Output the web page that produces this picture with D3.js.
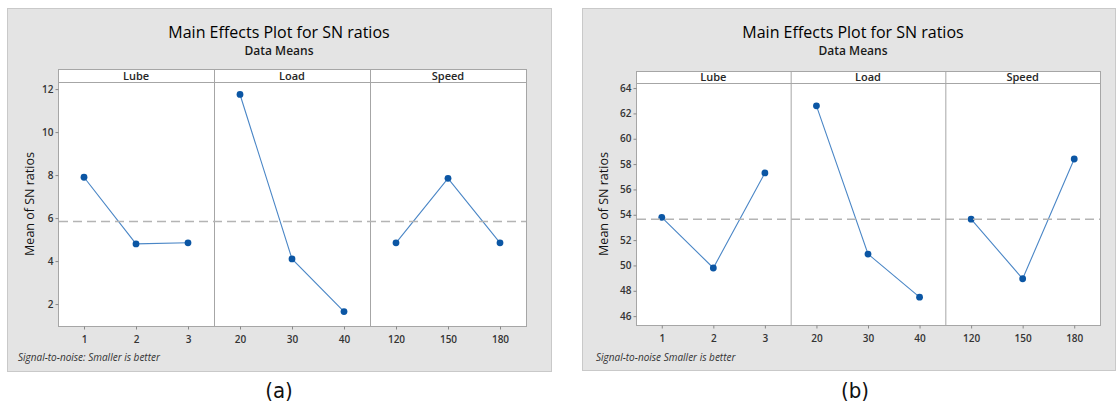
<!DOCTYPE html>
<html>
<head>
<meta charset="utf-8">
<script src="https://cdn.jsdelivr.net/npm/d3@7"></script>
<style>
  body { margin: 0; background: #fff; }
  svg { display: block; font-family: "Open Sans", "Noto Sans", sans-serif; }
</style>
</head>
<body>
<div id="chart"></div>
<script>
"use strict";

// factor names and their levels
const factors = ["Lube", "Load", "Speed"];
const lubeLevels = ["1", "2", "3"];
const loadLevels = ["20", "30", "40"];
const speedLevels = ["120", "150", "180"];

// (a) mean of SN ratios
const aLube = [7.9, 4.8, 4.85];
const aLoad = [11.75, 4.1, 1.65];
const aSpeed = [4.85, 7.85, 4.85];
const aTicks = [2, 4, 6, 8, 10, 12];

// (b) mean of SN ratios
const bLube = [53.8, 49.8, 57.3];
const bLoad = [62.6, 50.9, 47.5];
const bSpeed = [53.65, 48.95, 58.4];
const bTicks = [46, 48, 50, 52, 54, 56, 58, 60, 62, 64];

const titleText = "Main Effects Plot for SN ratios";
const subtitleText = "Data Means";
const yLabelText = "Mean of SN ratios";

const W = 1116, H = 406;

const svg = d3.select("#chart").append("svg")
  .attr("width", W)
  .attr("height", H);

const panels = [
  {
    box: [7, 8, 551, 371],
    plot: [58, 82, 526, 326],
    stripTop: 69,
    domain: [0.98, 12.33],
    ticks: aTicks,
    series: [aLube, aLoad, aSpeed],
    titleX: 279,
    labelX: 30,
    note: "Signal-to-noise: Smaller is better",
    noteX: 18,
    caption: "(a)",
    captionX: 279
  },
  {
    box: [582, 8, 1115, 370],
    plot: [636, 83, 1100, 325],
    stripTop: 71,
    domain: [45.3, 64.4],
    ticks: bTicks,
    series: [bLube, bLoad, bSpeed],
    titleX: 853,
    labelX: 604,
    note: "Signal-to-noise Smaller is better",
    noteX: 596,
    caption: "(b)",
    captionX: 855
  }
];

const levels = [lubeLevels, loadLevels, speedLevels];

panels.forEach(function (p) {
  const g = svg.append("g");
  const [bx0, by0, bx1, by1] = p.box;
  const [px0, py0, px1, py1] = p.plot;

  // gray background
  g.append("rect")
    .attr("x", bx0 + 0.5).attr("y", by0 + 0.5)
    .attr("width", bx1 - bx0).attr("height", by1 - by0)
    .style("fill", "#e4e4e4")
    .style("stroke", "#c9c9c9");

  // titles
  g.append("text")
    .attr("x", p.titleX).attr("y", 38)
    .attr("text-anchor", "middle")
    .style("font-size", "16px")
    .style("fill", "#000")
    .text(titleText);

  g.append("text")
    .attr("x", p.titleX).attr("y", 55)
    .attr("text-anchor", "middle")
    .style("font-size", "12px")
    .style("font-weight", "600")
    .style("fill", "#1a1a1a")
    .text(subtitleText);

  const y = d3.scaleLinear().domain(p.domain).range([py1, py0]);

  // facet scale
  const fx = d3.scaleBand().domain(factors).range([px0, px1]).padding(0);

  // plot and strip background
  g.append("rect")
    .attr("x", px0 + 0.5).attr("y", p.stripTop + 0.5)
    .attr("width", px1 - px0).attr("height", py1 - p.stripTop)
    .style("fill", "#fff")
    .style("stroke", "#a6a6a6");

  g.append("line")
    .attr("x1", px0).attr("x2", px1)
    .attr("y1", py0 + 0.5).attr("y2", py0 + 0.5)
    .style("stroke", "#a6a6a6");

  // y axis
  const yAxis = d3.axisLeft(y).tickValues(p.ticks).tickSize(3).tickPadding(2);
  const ya = g.append("g")
    .attr("transform", `translate(${px0 + 0.5},0)`)
    .call(yAxis);
  ya.select(".domain").remove();
  ya.selectAll("line").style("stroke", "#888");
  ya.selectAll("text")
    .style("font-size", "10px")
    .style("font-weight", "600")
    .style("font-family", "'Open Sans', sans-serif")
    .style("fill", "#333");

  g.append("text")
    .attr("transform", `translate(${p.labelX},${(py0 + py1) / 2}) rotate(-90)`)
    .attr("text-anchor", "middle")
    .attr("dy", "0.35em")
    .style("font-size", "12.5px")
    .style("fill", "#111")
    .text(yLabelText);

  // mean reference line
  const all = p.series.flat();
  const grand = d3.mean(all);

  factors.forEach(function (f, i) {
    const x0 = fx(f);
    const x = d3.scalePoint().domain(levels[i]).range([x0, x0 + fx.bandwidth()]).padding(0.5);

    if (i > 0) {
      g.append("line")
        .attr("x1", x0 + 0.5).attr("x2", x0 + 0.5)
        .attr("y1", p.stripTop).attr("y2", py1)
        .style("stroke", "#a6a6a6");
    }

    g.append("text")
      .attr("x", x0 + fx.bandwidth() / 2)
      .attr("y", py0 - 2.5)
      .attr("text-anchor", "middle")
      .style("font-size", "11px")
      .style("font-weight", "600")
      .style("fill", "#262626")
      .text(f);

    const xa = g.append("g")
      .attr("transform", `translate(0,${py1 + 0.5})`)
      .call(d3.axisBottom(x).tickSize(3).tickPadding(6));
    xa.select(".domain").remove();
    xa.selectAll("line").style("stroke", "#888");
    xa.selectAll("text")
      .style("font-size", "10px")
      .style("font-weight", "600")
      .style("font-family", "'Open Sans', sans-serif")
      .style("fill", "#333");

    const pts = levels[i].map((l, j) => [x(l), y(p.series[i][j])]);

    g.append("path")
      .attr("d", d3.line()(pts))
      .style("fill", "none")
      .style("stroke", "#4a86c6")
      .style("stroke-width", 1.1);

    g.selectAll(null)
      .data(pts)
      .enter().append("circle")
      .attr("cx", d => d[0])
      .attr("cy", d => d[1])
      .attr("r", 3.4)
      .style("fill", "#0b56a4");
  });

  g.append("line")
    .attr("x1", px0 + 1).attr("x2", px1)
    .attr("y1", y(grand)).attr("y2", y(grand))
    .style("stroke", "#b4b4b4")
    .style("stroke-width", 1.5)
    .style("stroke-dasharray", "9,5");

  // footnote
  g.append("text")
    .attr("x", p.noteX).attr("y", 361)
    .style("font-size", "10px")
    .style("font-style", "italic")
    .style("fill", "#333")
    .text(p.note);

  // caption
  svg.append("text")
    .attr("x", p.captionX).attr("y", 398)
    .attr("text-anchor", "middle")
    .style("font-family", "'DejaVu Sans Condensed', 'Liberation Sans Narrow', sans-serif")
    .style("font-size", "22px")
    .style("fill", "#111")
    .text(p.caption);
});
</script>
</body>
</html>
